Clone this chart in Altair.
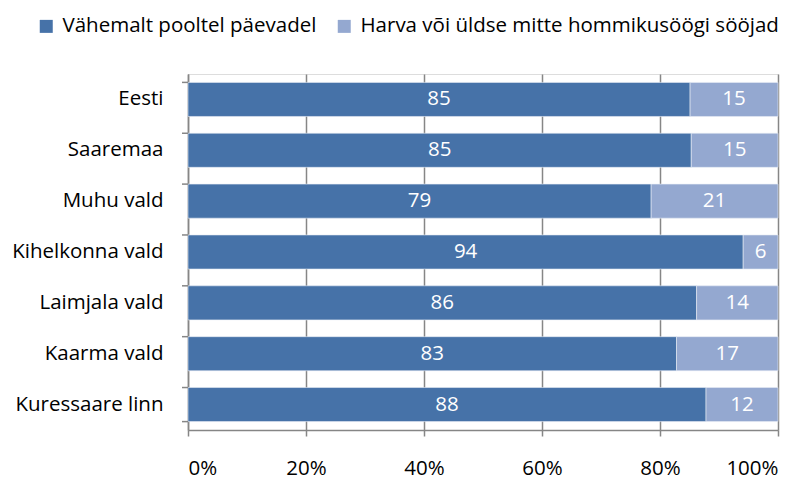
import altair as alt
import pandas as pd

categories = ["Eesti", "Saaremaa", "Muhu vald", "Kihelkonna vald",
              "Laimjala vald", "Kaarma vald", "Kuressaare linn"]
series_names = ["Vähemalt pooltel päevadel", "Harva või üldse mitte hommikusöögi sööjad"]
often_values = [85.1, 85.3, 78.5, 94.1, 86.2, 82.8, 87.8]
rare_values = [14.9, 14.7, 21.5, 5.9, 13.8, 17.2, 12.2]
often_labels = [85, 85, 79, 94, 86, 83, 88]
rare_labels = [15, 15, 21, 6, 14, 17, 12]
x_ticks = [0, 20, 40, 60, 80, 100]

rows = []
for i, c in enumerate(categories):
    rows.append({"cat": c, "series": series_names[0], "val": often_values[i],
                 "label": str(often_labels[i]), "ord": 0})
    rows.append({"cat": c, "series": series_names[1], "val": rare_values[i],
                 "label": str(rare_labels[i]), "ord": 1})
df = pd.DataFrame(rows)

FONT = "Open Sans"
FS = 20.5
colors = ["#4672A8", "#94A8D0"]

y_enc = alt.Y("cat:N", sort=categories, title=None,
              scale=alt.Scale(paddingInner=0.33, paddingOuter=0.165),
              axis=alt.Axis(ticks=False, domain=True, domainColor="#868686",
                            domainWidth=1.5, labelPadding=25, labelFontSize=FS,
                            labelFont=FONT, labelColor="#000000", labelLimit=300))

x_enc = alt.X("sum(val):Q", title=None, stack="zero",
              scale=alt.Scale(domain=[0, 100], nice=False, zero=True),
              axis=alt.Axis(values=x_ticks, labelExpr="datum.value + '%'",
                            grid=True, gridColor="#868686", gridWidth=1.5,
                            domain=True, domainColor="#868686", domainWidth=1.5,
                            ticks=True, tickColor="#868686", tickSize=6, tickWidth=1.5,
                            labelPadding=22, labelFontSize=FS, labelFont=FONT,
                            labelColor="#000000"))

bars = alt.Chart(df).mark_bar(stroke="#e8edf5", strokeWidth=0.6).encode(
    x=x_enc,
    y=y_enc,
    color=alt.Color("series:N", sort=series_names,
                    scale=alt.Scale(domain=series_names, range=colors),
                    legend=alt.Legend(title=None, orient="none", direction="horizontal",
                                      legendX=-152, legendY=-58, symbolType="square",
                                      symbolSize=169, symbolStrokeWidth=0,
                                      labelFontSize=FS, labelFont=FONT,
                                      labelColor="#000000", columnPadding=17,
                                      labelOffset=6, labelLimit=500)),
    order=alt.Order("ord:Q"),
)

text = alt.Chart(df).mark_text(color="white", fontSize=FS, font=FONT,
                               baseline="middle", align="center").encode(
    x=alt.X("val:Q", stack="zero", bandPosition=0.5, title=None),
    y=alt.Y("cat:N", sort=categories),
    detail="series:N",
    text="label:N",
    order=alt.Order("ord:Q"),
)

# y ticks at band boundaries
tick_df = pd.DataFrame({"cat": categories})
yticks = alt.Chart(tick_df).mark_rule(color="#868686", strokeWidth=1.5).encode(
    y=alt.Y("cat:N", sort=categories, bandPosition=0),
    x=alt.value(-6), x2=alt.value(0),
)
last_df = pd.DataFrame({"cat": [categories[-1]]})
ytick_last = alt.Chart(last_df).mark_rule(color="#868686", strokeWidth=1.5).encode(
    y=alt.Y("cat:N", sort=categories, bandPosition=1),
    x=alt.value(-6), x2=alt.value(0),
)

chart = alt.layer(bars, text, yticks, ytick_last).resolve_scale(color="independent").properties(
    width=590, height=356,
    autosize=alt.AutoSizeParams(type="none"),
    padding={"left": 180, "top": 66, "right": 20, "bottom": 49},
).configure_view(stroke=None).configure(background="white")

chart.save("out.html", embed_options={"renderer": "svg", "actions": False})
